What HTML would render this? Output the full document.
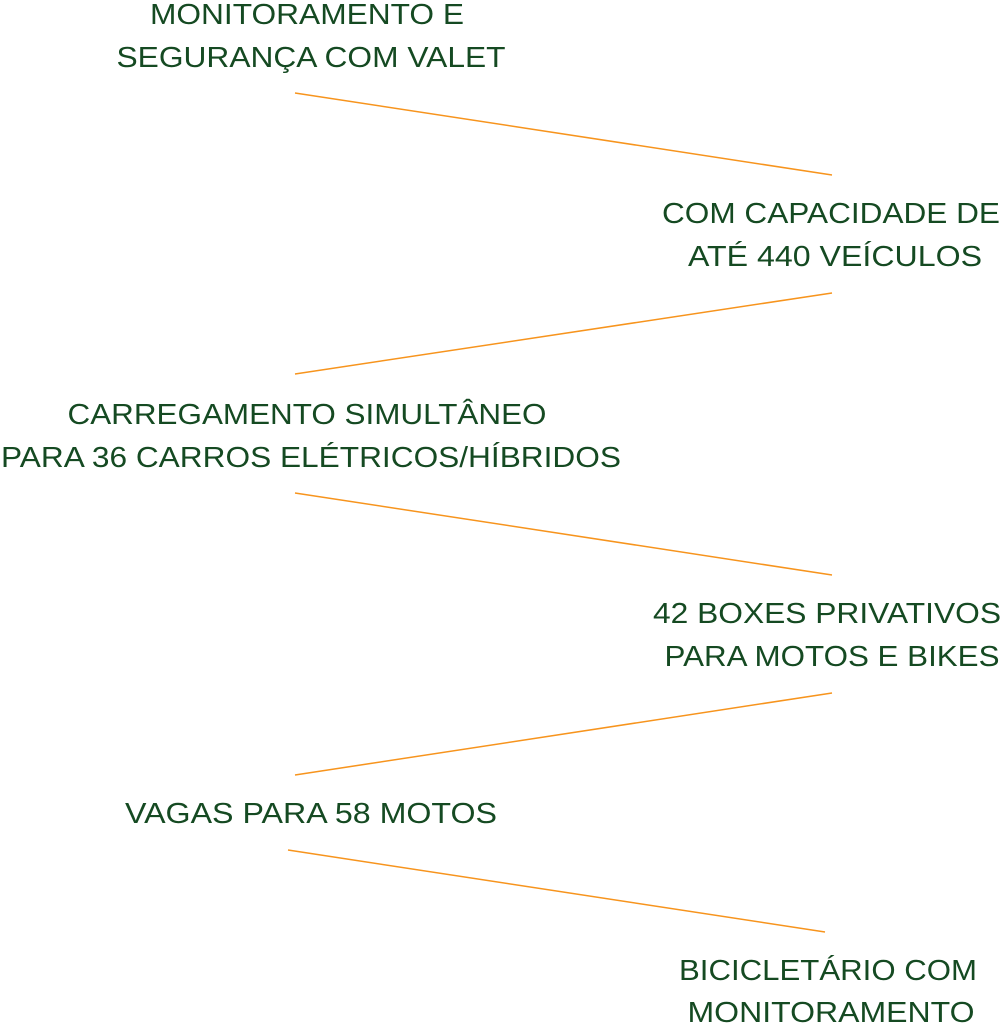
<!DOCTYPE html>
<html><head><style>html,body{margin:0;padding:0;background:#fff;width:1001px;height:1024px;overflow:hidden}</style></head>
<body>
<svg width="1001" height="1024" xmlns="http://www.w3.org/2000/svg">
<g stroke="#f7941d" stroke-width="1.5">
<line x1="295" y1="93" x2="832" y2="175"/>
<line x1="295" y1="374" x2="832" y2="293"/>
<line x1="295" y1="493" x2="832" y2="575"/>
<line x1="295" y1="775" x2="832" y2="693"/>
<line x1="288" y1="850" x2="825" y2="932"/>
</g>
<g fill="#154a22" font-family="Liberation Sans, sans-serif" font-size="29" text-anchor="middle">
<text x="307" y="24" textLength="314" lengthAdjust="spacingAndGlyphs">MONITORAMENTO E</text>
<text x="311" y="67" textLength="389" lengthAdjust="spacingAndGlyphs">SEGURANÇA COM VALET</text>
<text x="831" y="223" textLength="338" lengthAdjust="spacingAndGlyphs">COM CAPACIDADE DE</text>
<text x="835" y="266" textLength="294" lengthAdjust="spacingAndGlyphs">ATÉ 440 VEÍCULOS</text>
<text x="307" y="424" textLength="479" lengthAdjust="spacingAndGlyphs">CARREGAMENTO SIMULTÂNEO</text>
<text x="311" y="467" textLength="620" lengthAdjust="spacingAndGlyphs">PARA 36 CARROS ELÉTRICOS/HÍBRIDOS</text>
<text x="827" y="623" textLength="348" lengthAdjust="spacingAndGlyphs">42 BOXES PRIVATIVOS</text>
<text x="832" y="666" textLength="335" lengthAdjust="spacingAndGlyphs">PARA MOTOS E BIKES</text>
<text x="311" y="823" textLength="372" lengthAdjust="spacingAndGlyphs">VAGAS PARA 58 MOTOS</text>
<text x="828" y="980" textLength="298" lengthAdjust="spacingAndGlyphs">BICICLETÁRIO COM</text>
<text x="831" y="1022" textLength="287" lengthAdjust="spacingAndGlyphs">MONITORAMENTO</text>
</g>
</svg>
</body></html>
